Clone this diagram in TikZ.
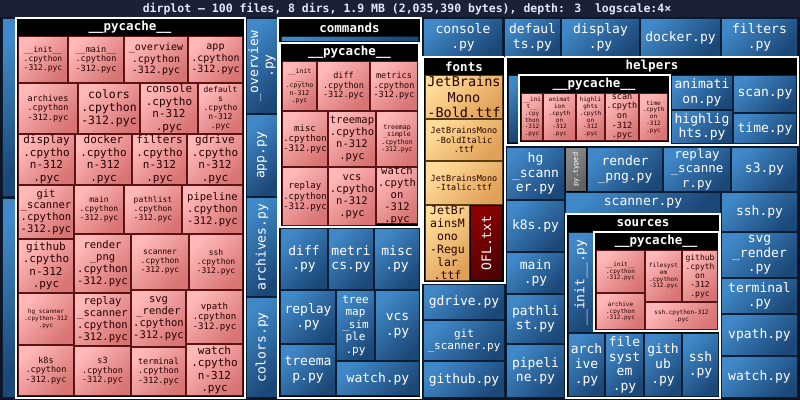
\documentclass[tikz,border=0pt]{standalone}
\usepackage{fontspec}
\setmainfont{DejaVu Sans Mono}
\definecolor{bg}{HTML}{0E1424}
\definecolor{hdr}{HTML}{1C2036}
\definecolor{bA}{HTML}{4088C8}
\definecolor{bB}{HTML}{1C4878}
\definecolor{bE}{HTML}{0A1E36}
\definecolor{pA}{HTML}{FFB8B8}
\definecolor{pB}{HTML}{D87474}
\definecolor{pE}{HTML}{5A1414}
\definecolor{oA}{HTML}{FFDC98}
\definecolor{oB}{HTML}{E0A058}
\definecolor{oE}{HTML}{5A3A10}
\definecolor{rA}{HTML}{8A0000}
\definecolor{rB}{HTML}{500000}
\definecolor{gA}{HTML}{8A8A8A}
\definecolor{gB}{HTML}{606060}
\newcounter{cc}
\tikzset{
  fs/.style={font={\pgfmathsetmacro\fsz{#1*0.75}\pgfmathsetmacro\fsb{#1*0.75*1.13}\fontsize{\fsz pt}{\fsb pt}\selectfont}},
  txt/.style={align=center,inner sep=0pt},
  blue/.style={draw=bE,line width=0.75pt,top color=bA,bottom color=bB,shading angle=45},
  pink/.style={draw=pE,line width=0.75pt,top color=pA,bottom color=pB,shading angle=45},
  orng/.style={draw=oE,line width=0.75pt,top color=oA,bottom color=oB,shading angle=45},
  redd/.style={draw=black,line width=0.75pt,top color=rA,bottom color=rB,shading angle=45},
  gray/.style={draw=black,line width=0.75pt,top color=gA,bottom color=gB,shading angle=45},
  bt/.style={text=white},
  pt/.style={text=black!85!red},
  dir/.style={draw=white,line width=0.9pt,fill=black},
  rot/.style={rotate=90},
}
\newcommand\cell[7]{\stepcounter{cc}\path[#5] (#1+0.5,#2+0.5) rectangle (#3-0.5,#4-0.5);
  \node[txt,#6] (c\thecc) at ({(#1+#3)/2},{(#2+#4)/2}) {#7};}
\newcommand\dirbox[6]{\stepcounter{cc}\path[dir] (#1,#2) rectangle (#3,#4);
  \node[txt,text=white,fs=12.5] (d\thecc) at (#5,#2+9.5) {\bfseries #6};}
\begin{document}
\begin{tikzpicture}[x=0.75pt,y=-0.75pt]
\useasboundingbox (0,0) rectangle (800,400);
\fill[bg] (0,0) rectangle (800,400);
\fill[hdr] (0,0) rectangle (800,17);
\node[txt,text=white!90!blue,fs=11.5] (title) at (407,9) {\bfseries dirplot — 100 files, 8 dirs, 1.9 MB (2,035,390 bytes), depth: 3\ \ logscale:4×};
% left strips
\cell{2}{18}{16}{197}{blue}{}{}
\cell{2}{198}{16}{398}{blue}{}{}
% big pycache
\dirbox{16}{18}{245}{398}{130}{\_\_pycache\_\_}
\cell{18}{36}{68}{83}{pink}{pt,fs=8}{\_\_init\_\_\\.cpython\\-312.pyc}
\cell{68}{36}{124}{83}{pink}{pt,fs=8.5}{\_\_main\_\_\\.cpython\\-312.pyc}
\cell{124}{36}{188}{83}{pink}{pt,fs=10}{\_overview\\.cpython\\-312.pyc}
\cell{188}{36}{243}{83}{pink}{pt,fs=10}{app\\.cpython\\-312.pyc}
\cell{18}{83}{78}{134}{pink}{pt,fs=8.5}{archives\\.cpython\\-312.pyc}
\cell{78}{83}{140}{134}{pink}{pt,fs=11.5}{colors\\.cpython\\-312.pyc}
\cell{140}{83}{198}{134}{pink}{pt,fs=11}{console\\.cpytho\\n-312\\.pyc}
\cell{198}{83}{243}{134}{pink}{pt,fs=8}{default\\s\\.cpytho\\n-312\\.pyc}
\cell{18}{134}{75}{185}{pink}{pt,fs=11}{display\\.cpytho\\n-312\\.pyc}
\cell{75}{134}{132}{185}{pink}{pt,fs=11}{docker\\.cpytho\\n-312\\.pyc}
\cell{132}{134}{187}{185}{pink}{pt,fs=11}{filters\\.cpytho\\n-312\\.pyc}
\cell{187}{134}{243}{185}{pink}{pt,fs=11}{gdrive\\.cpytho\\n-312\\.pyc}
\cell{18}{185}{74}{239}{pink}{pt,fs=10.5}{git\\\_scanner\\.cpython\\-312.pyc}
\cell{74}{185}{124}{234}{pink}{pt,fs=8}{main\\.cpython\\-312.pyc}
\cell{124}{185}{182}{234}{pink}{pt,fs=8}{pathlist\\.cpython\\-312.pyc}
\cell{182}{185}{243}{234}{pink}{pt,fs=10.5}{pipeline\\.cpython\\-312.pyc}
\cell{18}{239}{74}{293}{pink}{pt,fs=11}{github\\.cpytho\\n-312\\.pyc}
\cell{74}{234}{131}{293}{pink}{pt,fs=10.5}{render\\\_png\\.cpython\\-312.pyc}
\cell{131}{234}{189}{290}{pink}{pt,fs=8}{scanner\\.cpython\\-312.pyc}
\cell{189}{234}{243}{290}{pink}{pt,fs=8}{ssh\\.cpython\\-312.pyc}
\cell{18}{293}{74}{345}{pink}{pt,fs=6}{hg\_scanner\\.cpython-312\\.pyc}
\cell{74}{293}{131}{346}{pink}{pt,fs=10.5}{replay\\\_scanner\\.cpython\\-312.pyc}
\cell{131}{290}{186}{347}{pink}{pt,fs=10.5}{svg\\\_render\\.cpython\\-312.pyc}
\cell{186}{290}{243}{344}{pink}{pt,fs=9}{vpath\\.cpython\\-312.pyc}
\cell{18}{345}{74}{396}{pink}{pt,fs=8.5}{k8s\\.cpython\\-312.pyc}
\cell{74}{346}{131}{396}{pink}{pt,fs=8.5}{s3\\.cpython\\-312.pyc}
\cell{131}{347}{186}{396}{pink}{pt,fs=8.5}{terminal\\.cpython\\-312.pyc}
\cell{186}{344}{243}{396}{pink}{pt,fs=11}{watch\\.cpytho\\n-312\\.pyc}
% column
\cell{246}{18}{278}{114}{blue}{bt,fs=13,rot}{\_overview\\.py}
\cell{246}{114}{278}{197}{blue}{bt,fs=13,rot}{app.py}
\cell{246}{197}{278}{297}{blue}{bt,fs=13,rot}{archives.py}
\cell{246}{297}{278}{398}{blue}{bt,fs=13,rot}{colors.py}
% commands
\dirbox{278}{18}{421}{398}{349.5}{commands}
\cell{281}{36}{419}{42}{blue}{}{}
\dirbox{280}{43}{419}{227}{349.5}{\_\_pycache\_\_}
\cell{282}{61}{317}{111}{pink}{pt,fs=6.5}{\_\_init\\\_\_\\.cpytho\\n-312\\.pyc}
\cell{317}{61}{370}{111}{pink}{pt,fs=8.5}{diff\\.cpython\\-312.pyc}
\cell{370}{61}{418}{111}{pink}{pt,fs=8.5}{metrics\\.cpython\\-312.pyc}
\cell{282}{111}{328}{167}{pink}{pt,fs=9}{misc\\.cpython\\-312.pyc}
\cell{328}{111}{376}{167}{pink}{pt,fs=10.5}{treemap\\.cpytho\\n-312\\.pyc}
\cell{376}{111}{418}{167}{pink}{pt,fs=6.5}{treemap\\\_simple\\.cpython\\-312.pyc}
\cell{282}{167}{328}{226}{pink}{pt,fs=9}{replay\\.cpython\\-312.pyc}
\cell{328}{167}{376}{226}{pink}{pt,fs=10.5}{vcs\\.cpytho\\n-312\\.pyc}
\cell{376}{167}{418}{224}{pink}{pt,fs=10.5}{watch\\.cpyth\\on\\-312\\.pyc}
\cell{280}{228}{328}{290}{blue}{bt,fs=13}{diff\\.py}
\cell{328}{228}{374}{290}{blue}{bt,fs=13}{metri\\cs.py}
\cell{374}{228}{420}{290}{blue}{bt,fs=13}{misc\\.py}
\cell{280}{290}{336}{344}{blue}{bt,fs=13}{replay\\.py}
\cell{336}{290}{375}{361}{blue}{bt,fs=11}{tree\\map\\\_sim\\ple\\.py}
\cell{375}{290}{420}{361}{blue}{bt,fs=13}{vcs\\.py}
\cell{280}{344}{336}{396}{blue}{bt,fs=13}{treema\\p.py}
\cell{336}{361}{420}{396}{blue}{bt,fs=13}{watch.py}
% fonts column
\cell{423}{18}{503}{57}{blue}{bt,fs=13}{console\\.py}
\dirbox{423}{57}{505}{283}{464}{fonts}
\cell{425}{75}{503}{119}{orng}{pt,fs=13.5}{JetBrains\\Mono\\-Bold.ttf}
\cell{425}{119}{503}{161}{orng}{pt,fs=8.5}{JetBrainsMono\\-BoldItalic\\.ttf}
\cell{425}{161}{503}{205}{orng}{pt,fs=8.5}{JetBrainsMono\\-Italic.ttf}
\cell{425}{205}{470}{281}{orng}{pt,fs=11.5}{JetBr\\ainsM\\ono\\-Regu\\lar\\.ttf}
\cell{470}{205}{503}{281}{redd}{bt,fs=13,rot}{OFL.txt}
\cell{423}{284}{505}{320}{blue}{bt,fs=13}{gdrive.py}
\cell{423}{320}{505}{361}{blue}{bt,fs=11}{git\\\_scanner.py}
\cell{423}{361}{505}{398}{blue}{bt,fs=13}{github.py}
% top row
\cell{504}{18}{561}{57}{blue}{bt,fs=13}{defaul\\ts.py}
\cell{561}{18}{640}{57}{blue}{bt,fs=13}{display\\.py}
\cell{640}{18}{721}{57}{blue}{bt,fs=13}{docker.py}
\cell{721}{18}{798}{57}{blue}{bt,fs=13}{filters\\.py}
% helpers
\dirbox{506}{57}{798}{145}{652}{helpers}
\cell{508}{75}{519}{143}{blue}{}{}
\dirbox{519}{75}{670}{143}{594}{\_\_pycache\_\_}
\cell{521}{93}{543}{141}{pink}{pt,fs=6}{\_\_ini\\t\_\_\\.cpy\\thon\\-312\\.pyc}
\cell{543}{93}{576}{141}{pink}{pt,fs=6}{animat\\ion\\.cpyth\\on\\-312\\.pyc}
\cell{576}{93}{605}{141}{pink}{pt,fs=6}{highli\\ghts\\.cpyth\\on\\-312\\.pyc}
\cell{605}{93}{639}{141}{pink}{pt,fs=8.5}{scan\\.cpyth\\on\\-312\\.pyc}
\cell{639}{93}{668}{141}{pink}{pt,fs=6}{time\\.cpyth\\on\\-312\\.pyc}
\cell{671}{75}{733}{110}{blue}{bt,fs=13}{animati\\on.py}
\cell{671}{110}{733}{144}{blue}{bt,fs=13}{highlig\\hts.py}
\cell{733}{75}{797}{113}{blue}{bt,fs=13}{scan.py}
\cell{733}{113}{797}{144}{blue}{bt,fs=13}{time.py}
% below helpers
\cell{506}{147}{565}{200}{blue}{bt,fs=13}{hg\\\_scann\\er.py}
\cell{565}{147}{587}{192}{gray}{bt,fs=7,rot}{py.typed}
\cell{587}{147}{663}{192}{blue}{bt,fs=13}{render\\\_png.py}
\cell{663}{147}{731}{192}{blue}{bt,fs=12.5}{replay\\\_scanne\\r.py}
\cell{731}{147}{798}{192}{blue}{bt,fs=13}{s3.py}
\cell{565}{192}{721}{214}{blue}{bt,fs=13}{scanner.py}
\cell{721}{192}{798}{232}{blue}{bt,fs=13}{ssh.py}
\cell{721}{232}{798}{278}{blue}{bt,fs=13}{svg\\\_render\\.py}
\cell{721}{278}{798}{314}{blue}{bt,fs=13}{terminal\\.py}
\cell{721}{314}{798}{356}{blue}{bt,fs=13}{vpath.py}
\cell{721}{356}{798}{398}{blue}{bt,fs=13}{watch.py}
\cell{506}{200}{565}{252}{blue}{bt,fs=13}{k8s.py}
\cell{506}{252}{565}{294}{blue}{bt,fs=13}{main\\.py}
\cell{506}{294}{565}{344}{blue}{bt,fs=13}{pathli\\st.py}
\cell{506}{344}{565}{398}{blue}{bt,fs=13}{pipeli\\ne.py}
% sources
\dirbox{566}{214}{720}{398}{643}{sources}
\cell{568}{232}{594}{333}{blue}{bt,fs=13,rot}{\_\_init\_\_.py}
\dirbox{594}{232}{719}{331}{656}{\_\_pycache\_\_}
\cell{596}{250}{645}{293}{pink}{pt,fs=6}{\_\_init\_\_\\.cpython\\-312.pyc}
\cell{596}{293}{645}{330}{pink}{pt,fs=6}{archive\\.cpython\\-312.pyc}
\cell{645}{250}{682}{302}{pink}{pt,fs=6}{filesyst\\em\\.cpython\\-312.pyc}
\cell{682}{250}{718}{302}{pink}{pt,fs=8}{github\\.cpyth\\on\\-312\\.pyc}
\cell{645}{302}{718}{330}{pink}{pt,fs=6}{ssh.cpython-312\\.pyc}
\cell{568}{333}{605}{397}{blue}{bt,fs=13}{arch\\ive\\.py}
\cell{605}{333}{644}{397}{blue}{bt,fs=13}{file\\syst\\em\\.py}
\cell{644}{333}{682}{397}{blue}{bt,fs=13}{gith\\ub\\.py}
\cell{682}{333}{719}{397}{blue}{bt,fs=13}{ssh\\.py}
\end{tikzpicture}
\end{document}
